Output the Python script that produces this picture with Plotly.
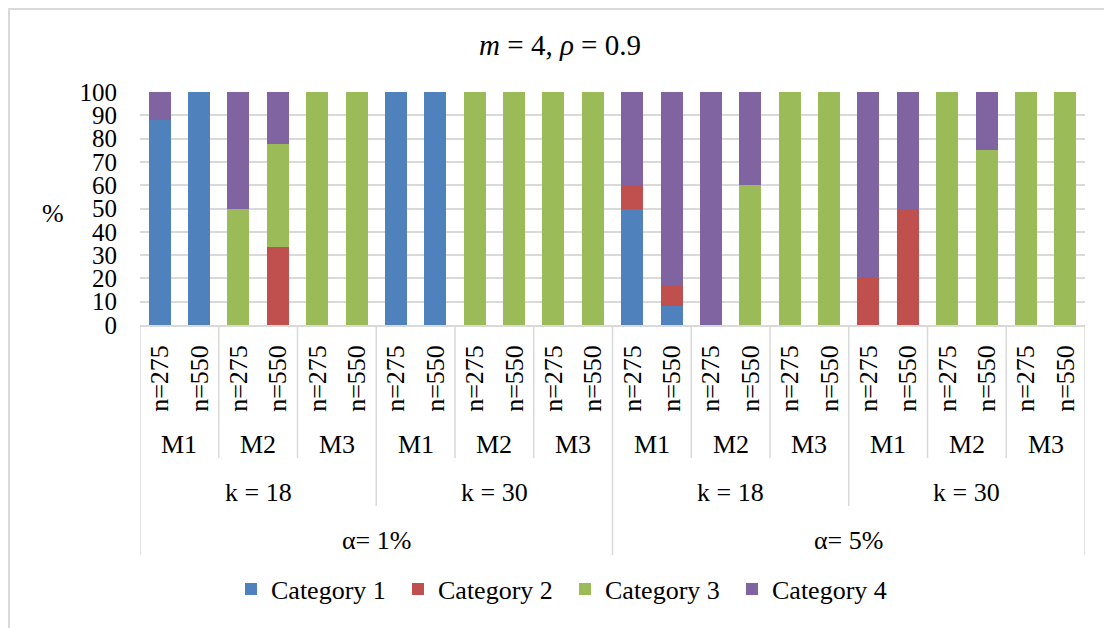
import plotly.graph_objects as go

# ---- data ----
n_labels = ["n=275", "n=550"] * 12
m_labels = ["M1", "M2", "M3"] * 4
k_labels = ["k = 18", "k = 30", "k = 18", "k = 30"]
alpha_labels = ["α= 1%", "α= 5%"]
series_names = ["Category 1", "Category 2", "Category 3", "Category 4"]
cat1 = [88, 100, 0, 0, 0, 0, 100, 100, 0, 0, 0, 0, 50, 8.3, 0, 0, 0, 0, 0, 0, 0, 0, 0, 0]
cat2 = [0, 0, 0, 33.3, 0, 0, 0, 0, 0, 0, 0, 0, 10, 8.4, 0, 0, 0, 0, 20, 50, 0, 0, 0, 0]
cat3 = [0, 0, 50, 44.5, 100, 100, 0, 0, 100, 100, 100, 100, 0, 0, 0, 60, 100, 100, 0, 0, 100, 75, 100, 100]
cat4 = [12, 0, 50, 22.2, 0, 0, 0, 0, 0, 0, 0, 0, 40, 83.3, 100, 40, 0, 0, 80, 50, 0, 25, 0, 0]
y_ticks = [0, 10, 20, 30, 40, 50, 60, 70, 80, 90, 100]

colors = ["#4F81BD", "#C0504D", "#9BBB59", "#8064A2"]
FONT = "Liberation Serif, Times New Roman, serif"
GRID = "#D9D9D9"

OFF = 8  # page body margin
W, H = 1112 - OFF, 628 - OFF
# plot area in page pixels (reference coordinates)
RL, RR, RT, RB = 140, 1085, 92, 325
L, R, T, B = RL - OFF, RR - OFF, RT - OFF, RB - OFF


def py(p):  # reference pixel y -> paper y
    return (RB - p) / (RB - RT)


def px(p):  # reference pixel x -> paper x
    return (p - RL) / (RR - RL)


x = list(range(len(n_labels)))

fig = go.Figure()
for name, vals, c in zip(series_names, [cat1, cat2, cat3, cat4], colors):
    fig.add_trace(go.Bar(x=x, y=vals, name=name, marker=dict(color=c, line=dict(width=0))))

fig.update_layout(
    width=W, height=H,
    barmode="stack", bargap=0.44,
    plot_bgcolor="white", paper_bgcolor="white",
    margin=dict(l=L, r=W - R, t=T, b=H - B, pad=0, autoexpand=False),
    font=dict(family=FONT, size=26, color="black"),
    title=dict(text="<i>m</i> = 4, <i>ρ</i> = 0.9", x=0.5, xref="container", xanchor="center",
               y=1 - (45 - OFF) / H, yref="container", yanchor="middle",
               font=dict(family=FONT, size=29, color="black")),
    legend=dict(orientation="h", x=px(565), xanchor="center", y=py(589), yanchor="middle",
                font=dict(family=FONT, size=26), traceorder="normal", itemwidth=30,
                entrywidth=122, entrywidthmode="pixels",
                bgcolor="rgba(0,0,0,0)"),
    showlegend=True,
)

fig.update_xaxes(range=[-0.5, len(x) - 0.5], tickmode="array", tickvals=x, ticktext=n_labels,
                 tickangle=-90, showgrid=False, zeroline=False, showline=True, linecolor=GRID,
                 linewidth=1.5, ticks="", ticklabelstandoff=8, tickfont=dict(family=FONT, size=26))
fig.update_yaxes(range=[0, 100], tickmode="array", tickvals=y_ticks, showgrid=True, gridcolor=GRID,
                 gridwidth=1.5, zeroline=False, showline=False, ticks="", ticklabelstandoff=22,
                 tickfont=dict(family=FONT, size=25))

annotations = []
# M level
for i, lab in enumerate(m_labels):
    cx = 2 * i + 0.5
    annotations.append(dict(x=cx, y=py(444), xref="x", yref="paper", text=lab, showarrow=False,
                            xanchor="center", yanchor="middle", font=dict(family=FONT, size=26)))
# k level
for i, lab in enumerate(k_labels):
    cx = 6 * i + 2.5
    annotations.append(dict(x=cx, y=py(492), xref="x", yref="paper", text=lab, showarrow=False,
                            xanchor="center", yanchor="middle", font=dict(family=FONT, size=26)))
# alpha level
for i, lab in enumerate(alpha_labels):
    cx = 12 * i + 5.5
    annotations.append(dict(x=cx, y=py(540), xref="x", yref="paper", text=lab, showarrow=False,
                            xanchor="center", yanchor="middle", font=dict(family=FONT, size=26)))
# % label
annotations.append(dict(x=px(53), y=py(213), xref="paper", yref="paper", text="%", showarrow=False,
                        xanchor="center", yanchor="middle", font=dict(family=FONT, size=26)))
fig.update_layout(annotations=annotations)

shapes = []
n = len(x)
for b in range(0, n + 1, 2):
    bx = b - 0.5
    if b % 12 == 0:
        bottom = 555
    elif b % 6 == 0:
        bottom = 506
    else:
        bottom = 458
    shapes.append(dict(type="line", xref="x", yref="paper", x0=bx, x1=bx, y0=0, y1=py(bottom),
                       line=dict(color=GRID, width=1.5)))
# outer chart border (only top and left edges are visible in the reference)
shapes.append(dict(type="rect", xref="paper", yref="paper", x0=px(9), x1=px(1140), y0=py(9), y1=py(680),
                   line=dict(color=GRID, width=2), fillcolor="rgba(0,0,0,0)", layer="below"))
fig.update_layout(shapes=shapes)

fig.write_html("out.html")
